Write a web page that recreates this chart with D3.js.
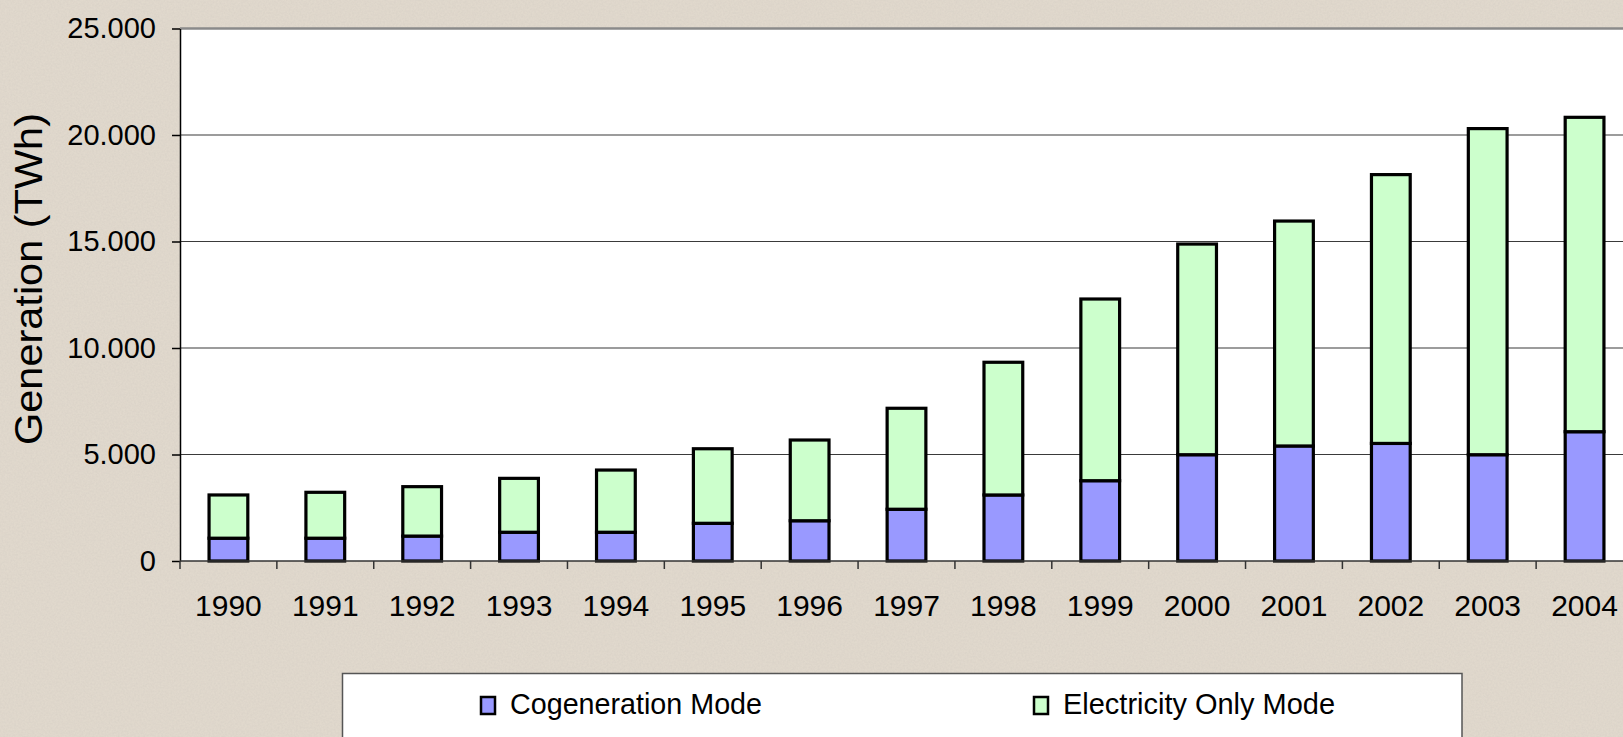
<!DOCTYPE html>
<html>
<head>
<meta charset="utf-8">
<script src="https://cdn.jsdelivr.net/npm/d3@7"></script>
<style>
  html, body { margin: 0; padding: 0; background: #e1d9cd; overflow: hidden; }
  svg { display: block; font-family: "Liberation Sans", Arial, sans-serif; }
</style>
</head>
<body>
<div id="chart"></div>
<script>
const years = ["1990", "1991", "1992", "1993", "1994", "1995", "1996", "1997",
               "1998", "1999", "2000", "2001", "2002", "2003", "2004"];
const cogeneration = [1070, 1070, 1170, 1350, 1350, 1770, 1890, 2430,
                      3100, 3770, 4990, 5400, 5520, 4990, 6070];
const electricityOnly = [2030, 2155, 2320, 2530, 2920, 3500, 3790, 4740,
                         6230, 8530, 9890, 10560, 12620, 15310, 14760];
const yTicks = [0, 5000, 10000, 15000, 20000, 25000];
const seriesNames = ["Cogeneration Mode", "Electricity Only Mode"];
const seriesColors = ["#9999ff", "#ccffcc"];

const width = 1623;
const height = 737;
const plot = { left: 180, top: 28.5, right: 1633, bottom: 561 };

const rows = years.map((y, i) => ({ year: y, cogen: cogeneration[i], elec: electricityOnly[i] }));
const stacked = d3.stack().keys(["cogen", "elec"])(rows);

const fmt = d3.formatLocale({ decimal: ",", thousands: ".", grouping: [3], currency: ["", ""] }).format(",d");

const svg = d3.select("#chart")
  .append("svg")
  .attr("width", width)
  .attr("height", height);

// textured paper background
const defs = svg.append("defs");
const paper = defs.append("filter").attr("id", "paper")
  .attr("x", 0).attr("y", 0).attr("width", "100%").attr("height", "100%");
paper.append("feTurbulence")
  .attr("type", "fractalNoise").attr("baseFrequency", 0.55).attr("numOctaves", 2).attr("seed", 3);
paper.append("feColorMatrix")
  .attr("values", "0 0 0 0 0.55  0 0 0 0 0.52  0 0 0 0 0.48  0 0 0 0.6 -0.15");
paper.append("feComposite").attr("in2", "SourceGraphic").attr("operator", "in");

svg.append("rect").attr("width", width).attr("height", height).attr("fill", "#e1d9cd");
svg.append("rect").attr("width", width).attr("height", height).attr("fill", "#e1d9cd")
  .attr("filter", "url(#paper)").attr("opacity", 0.6);

const xScale = d3.scaleBand()
  .domain(years)
  .range([plot.left, plot.right])
  .paddingInner(0.6)
  .paddingOuter(0.3);

const yScale = d3.scaleLinear()
  .domain([0, 25000])
  .range([plot.bottom, plot.top]);

// plot area
svg.append("rect")
  .attr("x", plot.left)
  .attr("y", plot.top)
  .attr("width", plot.right - plot.left)
  .attr("height", plot.bottom - plot.top)
  .attr("fill", "#ffffff");

svg.append("g")
  .selectAll("line")
  .data(yTicks.filter(d => d > 0 && d < 25000))
  .enter()
  .append("line")
  .attr("x1", plot.left)
  .attr("x2", plot.right)
  .attr("y1", d => yScale(d))
  .attr("y2", d => yScale(d))
  .attr("stroke", "#3a3a3a")
  .attr("stroke-width", 1.2);

svg.append("line")
  .attr("x1", plot.left)
  .attr("x2", plot.right)
  .attr("y1", yScale(25000))
  .attr("y2", yScale(25000))
  .attr("stroke", "#8a8a8a")
  .attr("stroke-width", 2.5);

// bars
svg.append("g")
  .selectAll("g")
  .data(stacked)
  .enter()
  .append("g")
  .attr("fill", (d, i) => seriesColors[i])
  .selectAll("rect")
  .data(d => d)
  .enter()
  .append("rect")
  .attr("x", d => xScale(d.data.year))
  .attr("y", d => yScale(d[1]))
  .attr("width", xScale.bandwidth())
  .attr("height", d => yScale(d[0]) - yScale(d[1]))
  .attr("stroke", "#000")
  .attr("stroke-width", 3.2);

// y axis
const yAxis = d3.axisLeft(yScale)
  .tickValues(yTicks)
  .tickFormat(d => fmt(d))
  .tickSizeInner(8)
  .tickSizeOuter(0)
  .tickPadding(16);

const gy = svg.append("g")
  .attr("transform", "translate(" + plot.left + ",0)")
  .call(yAxis);
gy.select(".domain").attr("stroke", "#000").attr("stroke-width", 1.5);
gy.selectAll(".tick line").attr("stroke", "#000").attr("stroke-width", 1.5);
gy.selectAll(".tick text")
  .attr("fill", "#000")
  .style("font-size", "29px")
  .style("font-family", "Liberation Sans, Arial, sans-serif");

// x axis: ticks between categories
const gx = svg.append("g");
gx.append("line")
  .attr("x1", plot.left)
  .attr("x2", plot.right)
  .attr("y1", plot.bottom)
  .attr("y2", plot.bottom)
  .attr("stroke", "#333")
  .attr("stroke-width", 1.5);

gx.selectAll("line.tk")
  .data(years)
  .enter()
  .append("line")
  .attr("class", "tk")
  .attr("x1", d => xScale(d) - xScale.step() * xScale.paddingInner() / 2)
  .attr("x2", d => xScale(d) - xScale.step() * xScale.paddingInner() / 2)
  .attr("y1", plot.bottom)
  .attr("y2", plot.bottom + 8)
  .attr("stroke", "#333")
  .attr("stroke-width", 1.5);

gx.selectAll("text")
  .data(years)
  .enter()
  .append("text")
  .attr("x", d => xScale(d) + xScale.bandwidth() / 2)
  .attr("y", 615.5)
  .attr("text-anchor", "middle")
  .style("font-size", "30px")
  .attr("fill", "#000")
  .text(d => d);

// axis title
svg.append("text")
  .attr("transform", "translate(42,279) rotate(-90)")
  .attr("text-anchor", "middle")
  .attr("textLength", 332)
  .attr("lengthAdjust", "spacingAndGlyphs")
  .style("font-size", "39px")
  .attr("fill", "#000")
  .text("Generation (TWh)");

// legend
const legend = svg.append("g");
legend.append("rect")
  .attr("x", 342.5)
  .attr("y", 673.5)
  .attr("width", 1119.5)
  .attr("height", 100)
  .attr("fill", "#ffffff")
  .attr("stroke", "#555")
  .attr("stroke-width", 1.5);

const legendItems = [
  { name: seriesNames[0], color: seriesColors[0], x: 480, len: 252 },
  { name: seriesNames[1], color: seriesColors[1], x: 1033, len: 272 }
];

legend.selectAll("rect.key")
  .data(legendItems)
  .enter()
  .append("rect")
  .attr("class", "key")
  .attr("x", d => d.x + 1)
  .attr("y", 697)
  .attr("width", 14)
  .attr("height", 17)
  .attr("fill", d => d.color)
  .attr("stroke", "#000")
  .attr("stroke-width", 2.5);

legend.selectAll("text")
  .data(legendItems)
  .enter()
  .append("text")
  .attr("x", d => d.x + 30)
  .attr("y", 714)
  .attr("textLength", d => d.len)
  .attr("lengthAdjust", "spacingAndGlyphs")
  .style("font-size", "30px")
  .attr("fill", "#000")
  .text(d => d.name);
</script>
</body>
</html>
